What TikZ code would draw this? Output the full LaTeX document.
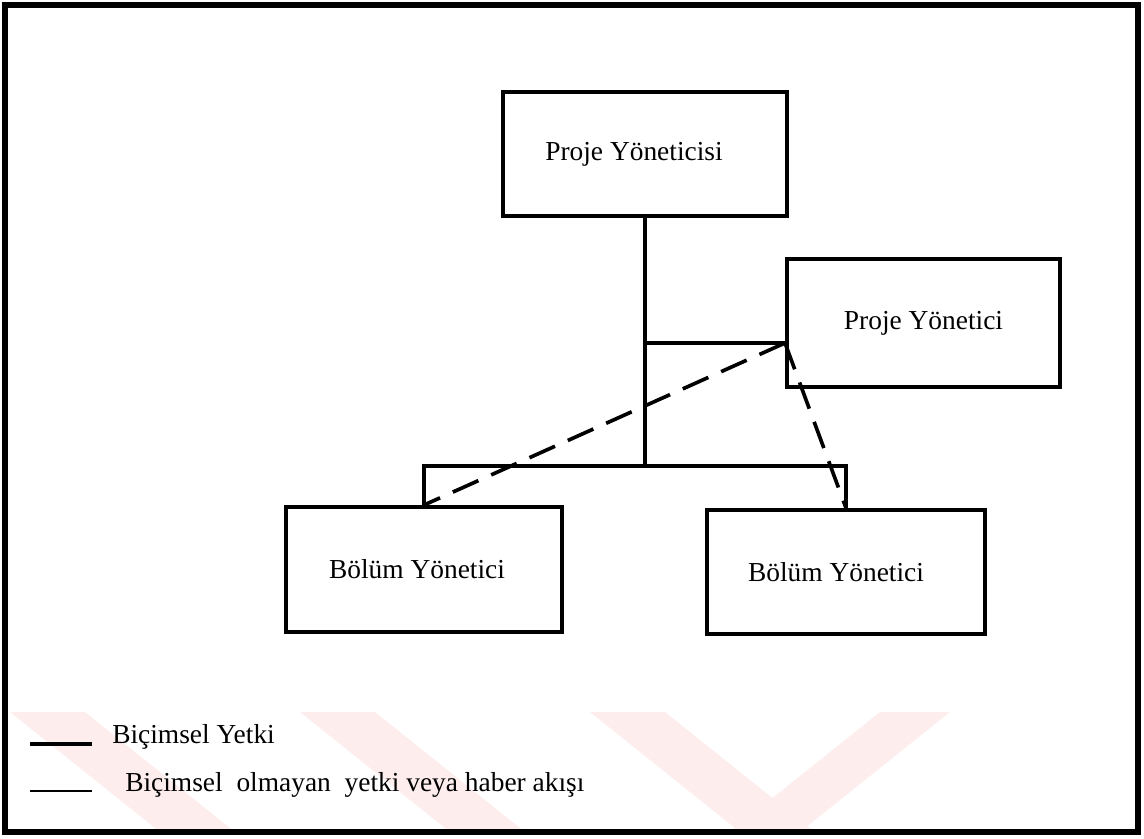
\documentclass[tikz,border=0pt]{standalone}
\usepackage{fontspec}
\setmainfont{Liberation Serif}
\usetikzlibrary{positioning,calc}
\tikzset{
  wire/.style   = {line width=2.8pt},
  iwire/.style  = {line width=2.6pt, dash pattern=on 0.7cm off 0.35cm},
  obox/.style   = {draw, line width=2.8pt, fill=white, inner sep=2pt,
                   font=\fontsize{19.5}{23}\selectfont},
  lshift/.style = {execute at end node={\hspace*{#1}}},
  lbl/.style    = {anchor=west, inner sep=0pt, font=\fontsize{19.5}{23}\selectfont},
  wmark/.style  = {fill={rgb,255:red,253;green,237;blue,237}, draw=none},
}

\begin{document}
\begin{tikzpicture}[x=0.025cm, y=-0.025cm]
  \useasboundingbox (0,0) rectangle (1144,838);
  % watermark
  \foreach \wx in {10,300,590}
    \fill[wmark] (\wx,712) -- ++(75,0) -- ++(150,120) -- ++(-75,0) -- cycle;
  \fill[wmark] (880,712) -- ++(70,0) -- ++(-150,120) -- ++(-70,0) -- cycle;
  % frame
  \draw[line width=3.6pt] (5,5) rectangle (1138,832);
  % boxes
  \node[obox, lshift=0.55cm, minimum width=7.1cm, minimum height=3.1cm] (pm) at (645,154) {Proje Yöneticisi};
  \node[obox, minimum width=6.825cm, minimum height=3.2cm] (pc) at (923.5,323) {Proje Yönetici};
  \node[obox, lshift=0.35cm, minimum width=6.9cm, minimum height=3.125cm] (d1) at (424,569.5) {Bölüm Yönetici};
  \node[obox, lshift=0.5cm, minimum width=6.95cm, minimum height=3.1cm] (d2) at (846,572) {Bölüm Yönetici};
  \coordinate (j) at (645,466);
  \coordinate (k) at (645,343);
  % formal lines
  \draw[wire] (pm.south)--(j);
  \draw[wire] (k)--(k-|pc.west);
  \draw[wire] (d1.north)--(d1.north|-j)--(d2.north|-j)--(d2.north);
  % informal lines
  \draw[iwire] (k-|pc.west)--(d1.north);
  \draw[iwire] (k-|pc.west)--(d2.north);
  % legend
  \coordinate (l1) at (30,744);
  \coordinate (l2) at (30,791);
  \draw[line width=2.4pt] (l1)--++(62,0);
  \draw[line width=1.7pt] (l2)--++(62,0);
  \node[lbl] (t1) at (112,737) {Biçimsel Yetki};
  \node[lbl] (t2) at (125,785) {Biçimsel\ \ olmayan\ \ yetki veya haber akışı};
\end{tikzpicture}
\end{document}
